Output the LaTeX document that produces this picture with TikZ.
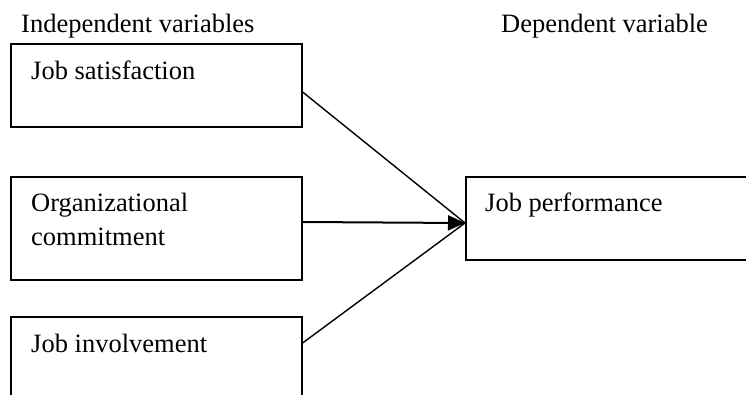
\documentclass[tikz,border=0pt]{standalone}
\usepackage{fontspec}
\setmainfont{Liberation Serif}
\usetikzlibrary{arrows.meta}
\begin{document}
\begin{tikzpicture}[x=1pt,y=-1pt,
  box/.style={draw=black,line width=1.6pt,rectangle,inner sep=0pt,anchor=north west},
  lbl/.style={anchor=base west,inner sep=0pt,font=\fontsize{26.5}{34}\selectfont,align=left},
  link/.style={draw=black,line width=1.4pt},
  mainlink/.style={draw=black,line width=2pt,-{Triangle[length=17pt,width=15pt]}}]
\clip (0,0) rectangle (746,394);
\node[lbl] (iv) at (21,32) {Independent variables};
\node[lbl] (dv) at (501,32) {Dependent variable};
\node[box,minimum width=291pt,minimum height=83pt] (b1) at (10,43) {};
\node[box,minimum width=291pt,minimum height=103pt] (b2) at (10,176) {};
\node[box,minimum width=291pt,minimum height=110pt] (b3) at (10,316) {};
\node[box,minimum width=300pt,minimum height=83pt] (b4) at (465,176) {};
\node[lbl] (t1) at (31,79) {Job satisfaction};
\node[lbl] (t2) at (31,245) {Organizational\\commitment};
\node[lbl] (t3) at (31,352) {Job involvement};
\node[lbl] (t4) at (485,211) {Job performance};
\coordinate (s1) at (b1.north east |- 0,92);
\coordinate (s2) at (b2.north east |- 0,222);
\coordinate (s3) at (b3.north east |- 0,343);
\coordinate (e) at (b4.north west |- 0,223);
\draw[link] (s1) -- (e);
\draw[link] (s3) -- (e);
\draw[mainlink] (s2) -- (e);
\end{tikzpicture}
\end{document}
